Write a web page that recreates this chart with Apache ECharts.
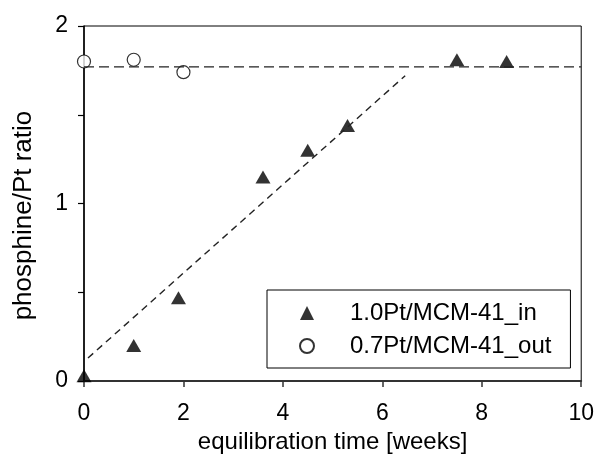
<!DOCTYPE html>
<html>
<head>
<meta charset="utf-8">
<script src="https://cdn.jsdelivr.net/npm/echarts@6/dist/echarts.min.js"></script>
<style>
  html, body { margin: 0; padding: 0; background: #fff; }
  #chart { width: 597px; height: 459px; }
</style>
</head>
<body>
<div id="chart"></div>
<script>
// measured points
const inWeeks = [0, 1.0, 1.9, 3.6, 4.5, 5.3, 7.5, 8.5]
const inRatio = [0.03, 0.20, 0.47, 1.15, 1.30, 1.44, 1.81, 1.80]
const outWeeks = [0, 1, 2]
const outRatio = [1.80, 1.81, 1.74]

// dashed guide lines
const plateauX = [0, 10]
const plateauY = [1.77, 1.77]
const slopeX = [0.08, 6.46]
const slopeY = [0.13, 1.72]

const xTicks = [0, 2, 4, 6, 8, 10]
const yLabels = [0, 1, 2]

const pair = (xs, ys) => xs.map((x, i) => [x, ys[i]])
const font = 'Liberation Sans, Arial, sans-serif'

const chart = echarts.init(document.getElementById('chart'))
chart.setOption({
  animation: false,
  textStyle: { fontFamily: font, color: '#000' },
  grid: {
    left: 84, right: 15, top: 26, bottom: 77,
    show: true, borderColor: '#000', borderWidth: 1
  },
  legend: {
    orient: 'vertical',
    left: 267, top: 290,
    padding: [11, 19, 10, 32],
    itemWidth: 14, itemHeight: 14, itemGap: 9,
    borderColor: '#000', borderWidth: 1,
    textStyle: {
      fontSize: 24, lineHeight: 24, color: '#000', fontFamily: font,
      padding: [0, 0, 0, 31]
    },
    data: ['1.0Pt/MCM-41_in', '0.7Pt/MCM-41_out']
  },
  xAxis: {
    type: 'value',
    min: xTicks[0], max: xTicks[xTicks.length - 1], interval: 2,
    name: 'equilibration time [weeks]',
    nameLocation: 'middle', nameGap: 48,
    nameTextStyle: { fontSize: 24, color: '#000', fontFamily: font },
    axisLine: { lineStyle: { color: '#333', width: 2 } },
    axisTick: { show: true, inside: false, length: 6, lineStyle: { color: '#333', width: 1.5 } },
    axisLabel: { fontSize: 23, color: '#000', margin: 21 },
    splitLine: { show: false }
  },
  yAxis: {
    type: 'value',
    min: 0, max: 2, interval: 0.5,
    name: 'phosphine/Pt ratio',
    nameLocation: 'middle', nameGap: 47,
    nameTextStyle: {
      fontSize: 26, color: '#000', fontFamily: font,
      padding: [0, 24, 0, 0]
    },
    axisLine: { show: true, lineStyle: { color: '#000', width: 1.5 } },
    axisTick: { show: true, inside: false, length: 6, lineStyle: { color: '#000', width: 1.2 } },
    axisLabel: {
      fontSize: 23, color: '#000', margin: 16,
      formatter: v => (yLabels.includes(v) ? String(v) : '')
    },
    splitLine: { show: false }
  },
  series: [
    {
      name: 'plateau', type: 'line', data: pair(plateauX, plateauY),
      symbol: 'none', silent: true,
      lineStyle: { color: '#222', width: 1.4, type: [10, 5] }
    },
    {
      name: 'slope', type: 'line', data: pair(slopeX, slopeY),
      symbol: 'none', silent: true,
      lineStyle: { color: '#222', width: 1.4, type: [7, 5] }
    },
    {
      name: '1.0Pt/MCM-41_in', type: 'scatter', clip: false,
      data: pair(inWeeks, inRatio),
      symbol: 'triangle', symbolSize: [15, 13],
      itemStyle: { color: '#000' }
    },
    {
      name: '0.7Pt/MCM-41_out', type: 'scatter', clip: false,
      data: pair(outWeeks, outRatio),
      symbol: 'circle', symbolSize: 13,
      itemStyle: { color: '#fff', borderColor: '#000', borderWidth: 1.2 }
    }
  ]
})
</script>
</body>
</html>
